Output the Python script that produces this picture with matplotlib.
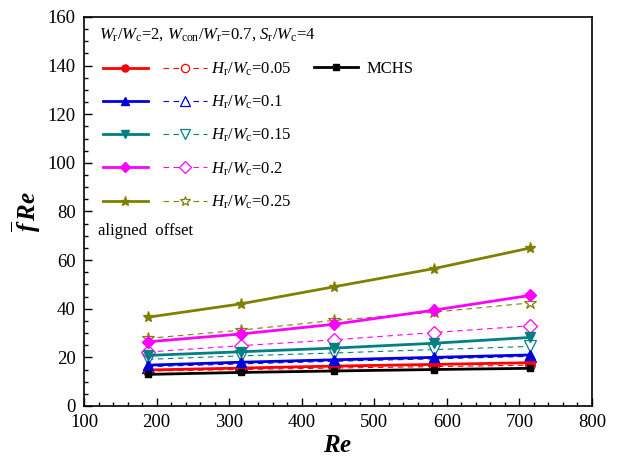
import matplotlib
matplotlib.use("Agg")
import matplotlib.pyplot as plt
from matplotlib.ticker import MultipleLocator
from matplotlib.legend_handler import HandlerTuple

plt.rcParams['font.family'] = ['Liberation Serif', 'DejaVu Serif']
plt.rcParams['mathtext.fontset'] = 'custom'
plt.rcParams['mathtext.rm'] = 'Liberation Serif'
plt.rcParams['mathtext.it'] = 'Liberation Serif:italic'
plt.rcParams['mathtext.bf'] = 'Liberation Serif:bold'
plt.rcParams['mathtext.bfit'] = 'Liberation Serif:bold:italic'

# Reynolds numbers
re_vals = [188, 316, 444, 582, 715]

# Height ratios Hr/Wc
ratios = ["0.05", "0.1", "0.15", "0.2", "0.25"]

# fRe, aligned ribs (solid)
aligned = [
    [14.8, 15.6, 16.4, 17.1, 17.8],
    [16.8, 18.0, 19.0, 20.0, 21.0],
    [20.8, 22.3, 23.8, 25.8, 28.2],
    [26.4, 29.6, 33.6, 39.4, 45.5],
    [36.5, 42.0, 49.0, 56.5, 65.0],
]

# fRe, offset ribs (dashed)
offset = [
    [14.4, 15.0, 15.6, 16.2, 16.8],
    [16.2, 17.3, 18.4, 19.4, 20.4],
    [19.2, 20.6, 21.8, 23.2, 24.5],
    [22.2, 24.8, 27.2, 30.2, 33.0],
    [27.8, 31.2, 35.2, 38.6, 42.4],
]

# Smooth channel
mchs = [13.0, 13.8, 14.4, 15.0, 15.5]

colors = ["#ff0000", "#0000dd", "#008080", "#ff00ff", "#808000"]
markers = ["o", "^", "v", "D", "*"]
msizes = [6, 7, 7, 6, 8]

fig = plt.figure(figsize=(6.24, 4.68), dpi=100)
ax = fig.add_axes([0.1346, 0.1325, 0.8141, 0.8312])

handles = []
labels = []
for i in range(5):
    ls, = ax.plot(re_vals, aligned[i], color=colors[i], lw=2.0, marker=markers[i],
                  ms=msizes[i], mfc=colors[i], mec=colors[i], zorder=4)
    ld, = ax.plot(re_vals, offset[i], color=colors[i], lw=0.8, ls=(0, (5, 4)),
                  marker=markers[i], ms=msizes[i] + 1, mfc="white", mec=colors[i],
                  mew=0.9, zorder=3)
    handles.append((ls, ld))
    labels.append(r"$H_{\mathrm{r}}/W_{\mathrm{c}}$=" + ratios[i])

lm, = ax.plot(re_vals, mchs, color="black", lw=2.0, marker="s", ms=5, zorder=5)

ax.set_xlim(100, 800)
ax.set_ylim(0, 160)
ax.xaxis.set_major_locator(MultipleLocator(100))
ax.xaxis.set_minor_locator(MultipleLocator(20))
ax.yaxis.set_major_locator(MultipleLocator(20))
ax.yaxis.set_minor_locator(MultipleLocator(5))
ax.tick_params(which="both", direction="in", top=False, right=False, labelsize=13.5)
ax.tick_params(axis="x", which="major", pad=6)
ax.tick_params(axis="y", which="major", pad=6)
ax.tick_params(which="major", length=6, width=1)
ax.tick_params(which="minor", length=3, width=1)
for sp in ax.spines.values():
    sp.set_linewidth(1.2)

ax.set_xlabel(r"$\mathbfit{Re}$", fontsize=18, labelpad=3)
ax.set_ylabel(r"$\overline{\mathbfit{f}}\,\mathbfit{Re}$", fontsize=18, labelpad=3)

leg1 = ax.legend(handles, labels, handler_map={tuple: HandlerTuple(ndivide=None, pad=0.9)},
                 loc="upper left", bbox_to_anchor=(0.025, 0.905), frameon=False,
                 fontsize=12, handlelength=6.2, handletextpad=0.25, labelspacing=0.95,
                 borderaxespad=0, markerscale=0.85)
ax.add_artist(leg1)
ax.legend([lm], ["MCHS"], loc="upper left", bbox_to_anchor=(0.44, 0.905), frameon=False,
          fontsize=12, handlelength=2.6, handletextpad=0.55, borderaxespad=0)

ax.text(0.03, 0.955, r"$W_{\mathrm{r}}/W_{\mathrm{c}}$=2, $W_{\mathrm{con}}/W_{\mathrm{r}}$=0.7, "
        r"$S_{\mathrm{r}}/W_{\mathrm{c}}$=4", transform=ax.transAxes, fontsize=12,
        va="center", ha="left")
ax.text(0.028, 0.449, "aligned  offset", transform=ax.transAxes, fontsize=12,
        va="center", ha="left")

fig.savefig("out.png", dpi=100)
